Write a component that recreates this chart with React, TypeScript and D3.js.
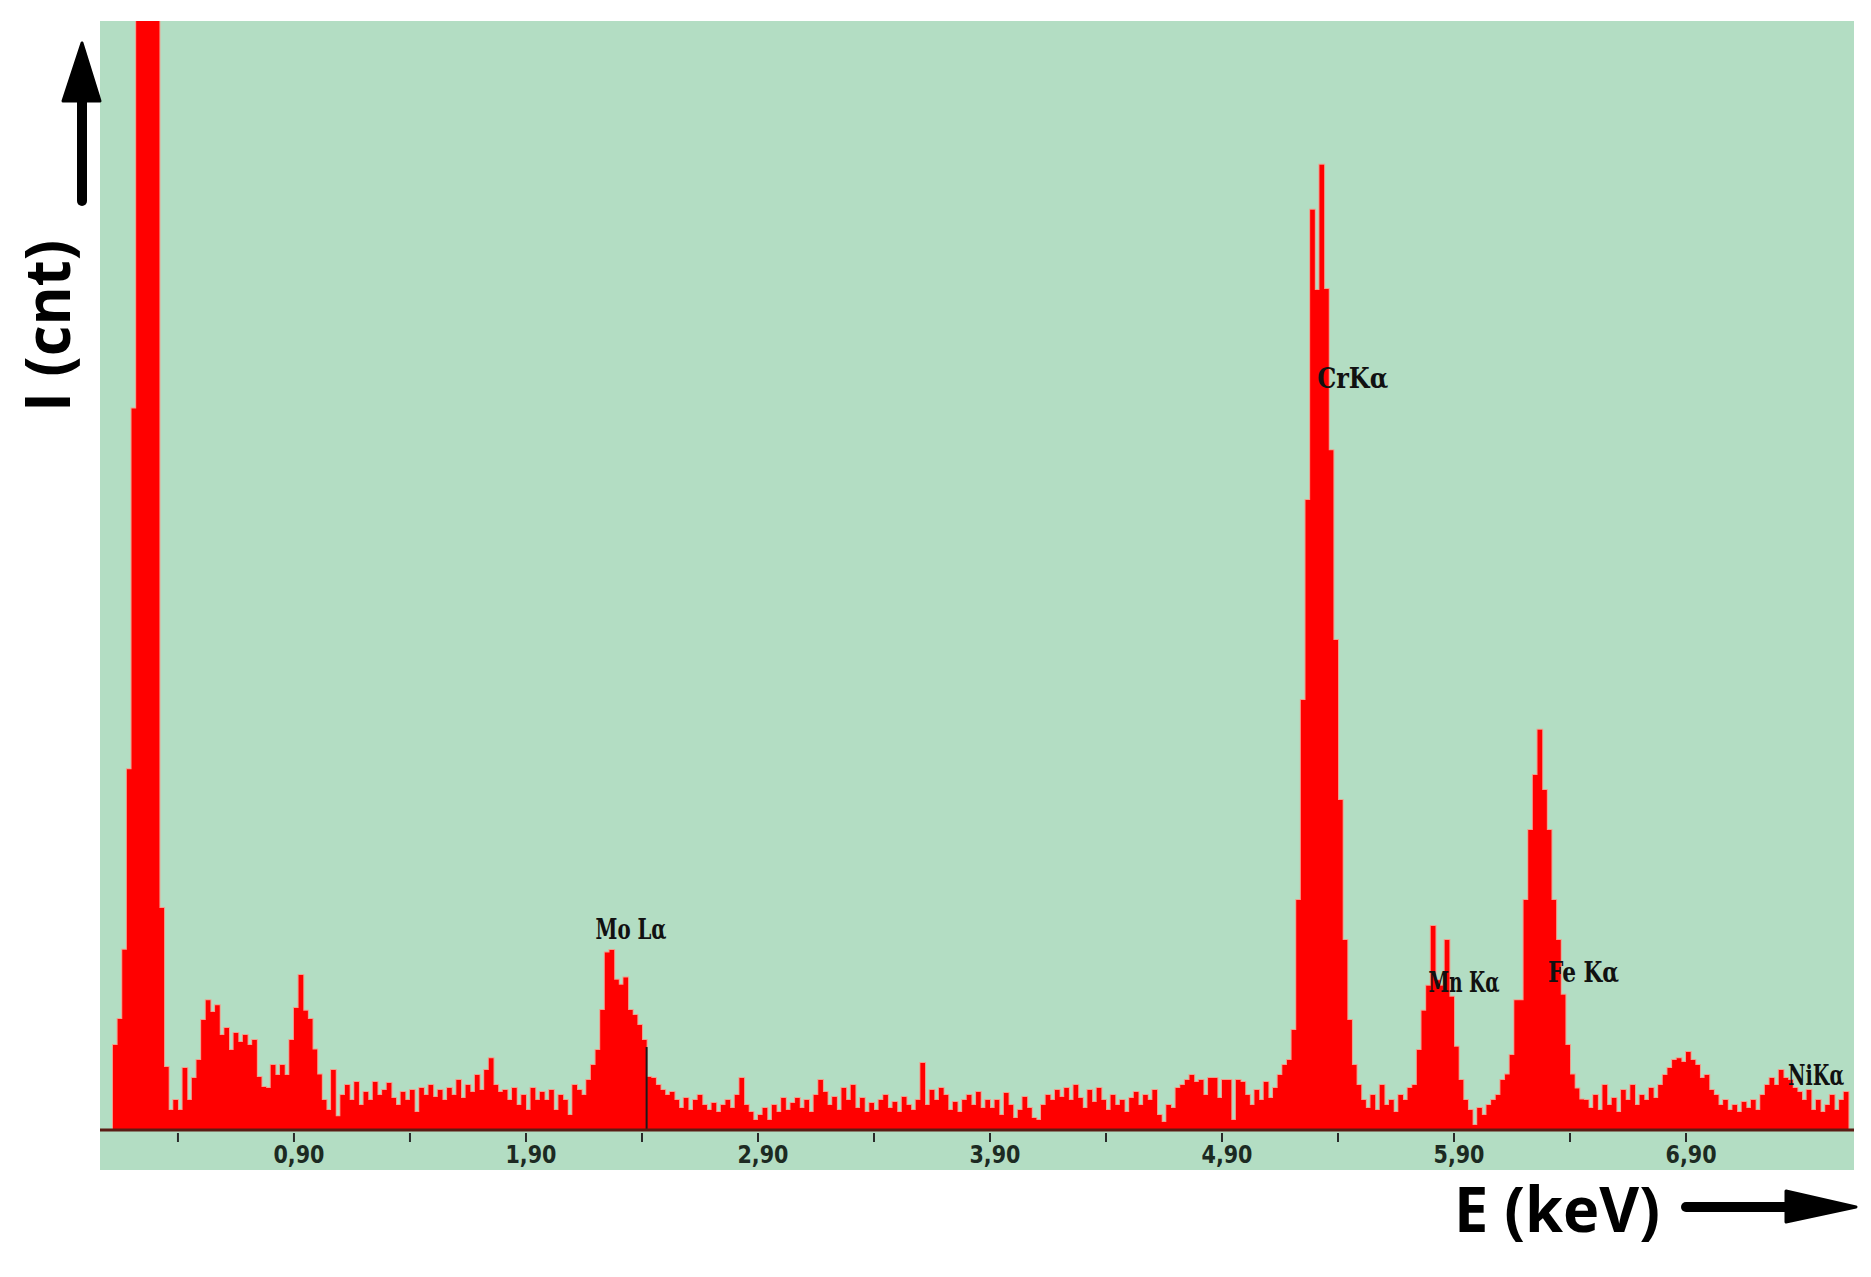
import React from "react";
import * as d3 from "d3";

// Channel calibration (keV) of the spectrum bins
const E_START = 0.12;
const E_STEP = 0.02;

// Counts per 0.02 keV channel
const countsCO = [306, 400, 650, 1300, 2600, 6000, 9000, 12000, 11000, 6000, 800, 227, 72, 108]; // 0.12–0.38
const countsLow = [72, 223, 108, 187, 252, 396, 468, 425, 450, 342, 368, 288, 350, 317, 342, 306, 324, 191, 155, 151, 234, 198, 234, 198, 324, 440, 559, 430, 400, 290]; // 0.40–0.98
const countsBg1 = [200, 108, 72, 216, 50, 126, 162, 108, 173, 90, 137, 108, 173, 126, 144, 169, 115, 90, 137, 108, 144, 65, 151, 126, 162, 119, 144, 108, 151, 126, 180, 115, 162, 137, 198, 144, 216, 259, 162, 137, 144, 108, 151, 90, 126, 72, 151, 108, 137]; // 1.00–1.96
const countsMo = [108, 144, 72, 126, 108, 54, 162, 144, 126, 180, 234, 288, 432, 640, 649, 541, 523, 550, 432, 414, 378, 324, 191, 187, 162, 144, 126, 137, 108, 79, 115, 72, 108, 126, 90, 72, 97, 65, 90, 108, 79, 126, 187, 90, 65, 36, 54, 79, 36, 90, 65, 115, 72, 97, 115, 79, 108, 65, 126, 180, 137, 90, 119, 72, 151, 108, 162, 79, 115, 65, 97, 72, 108, 126, 79, 101, 65, 119, 90, 72, 108, 241, 90, 144, 108, 151, 126, 72, 101, 65, 108, 126, 90, 137, 79, 108]; // 1.98–3.88
const countsBg2 = [79, 108, 54, 133, 90, 43, 72, 119, 79, 43, 36, 90, 126, 108, 144, 119, 151, 108, 162, 115, 79, 144, 101, 151, 108, 72, 126, 90, 108, 65, 115, 137, 90, 126, 108, 144, 54, 29, 90, 79, 151, 162, 180, 198, 173, 180, 126, 187, 187, 115, 180, 180, 36, 180, 173, 126, 90, 144, 108, 173, 115, 151, 198, 234, 252]; // 3.90–5.20
const countsCrMn = [360, 829, 1550, 2270, 3316, 3027, 3478, 3031, 2450, 1766, 1189, 685, 396, 234, 162, 108, 79, 126, 72, 162, 90, 108, 65, 126, 108, 151, 162, 288, 430, 520, 735, 540, 520, 685, 480, 300, 180, 108, 72]; // 5.22–5.98
const countsFeNi = [18, 79, 54, 90, 108, 126, 180, 200, 270, 468, 468, 829, 1081, 1279, 1442, 1225, 1081, 829, 685, 487, 306, 200, 150, 110, 108, 79, 126, 72, 162, 90, 115, 65, 144, 108, 162, 90, 126, 108, 151, 115, 162, 198, 223, 252, 259, 245, 281, 252, 234, 187, 198, 144, 126, 90, 108, 72, 90, 65, 101, 79, 108, 72, 126, 162, 187, 162, 216, 187, 180, 151, 137, 108, 144, 72, 108, 65, 90, 126, 72, 108, 137]; // 6.00–7.60

// Axis ticks
const majorTicks = [0.9, 1.9, 2.9, 3.9, 4.9, 5.9, 6.9];
const minorTicks = [0.4, 1.4, 2.4, 3.4, 4.4, 5.4, 6.4];
const tickLabels = ["0,90", "1,90", "2,90", "3,90", "4,90", "5,90", "6,90"];

// Peak labels (energy / count of the label anchor)
const peakNames = ["Mo Lα", "CrKα", "Mn Kα", "Fe Kα", "NiKα"];
const peakLabelE = [2.2, 5.31, 5.79, 6.305, 7.34];
const peakLabelC = [688, 2674, 497, 533, 162];

// Cursor marker
const markerE = 2.42;
const markerC = 299;

export default function App() {
  const W = 1871;
  const H = 1277;
  const left = 100, top = 21, right = 1854, bottom = 1170;
  const x = d3.scaleLinear().domain([0.064, 7.624]).range([left, right]);
  const y = d3.scaleLinear().domain([0, 4000]).range([1130, 20]);

  const all = [
    ...countsCO, ...countsLow, ...countsBg1, ...countsMo,
    ...countsBg2, ...countsCrMn, ...countsFeNi,
  ];
  const pts = all.map((c, i) => ({ e: E_START + i * E_STEP, c }));
  pts.push({ e: E_START + all.length * E_STEP, c: all[all.length - 1] });

  const area = d3
    .area<{ e: number; c: number }>()
    .x((d) => x(d.e))
    .y0(y(0))
    .y1((d) => y(d.c))
    .curve(d3.curveStepAfter);

  const baseY = y(0);

  return (
    <svg
      width={W}
      height={H}
      style={{ position: "absolute", left: 0, top: 0, background: "#fff" }}
    >
      <defs>
        <clipPath id="plotClip">
          <rect x={left} y={top} width={right - left} height={baseY - top} />
        </clipPath>
      </defs>
      <rect x={left} y={top} width={right - left} height={bottom - top} fill="#b3ddc3" />

      <g clipPath="url(#plotClip)">
        <path
          d={area(pts) || ""}
          fill="#ff0000"
          stroke="#f49c8c"
          strokeWidth={2}
          style={{ paintOrder: "stroke" }}
        />
        <line
          x1={x(markerE)}
          x2={x(markerE)}
          y1={y(markerC)}
          y2={baseY}
          stroke="#1a1a1a"
          strokeWidth={2}
        />
      </g>

      {/* baseline */}
      <line x1={left} x2={right} y1={baseY} y2={baseY} stroke="#5a1c14" strokeWidth={3} />

      {/* ticks */}
      {[...majorTicks, ...minorTicks].map((t, i) => (
        <line key={"t" + i} x1={x(t)} x2={x(t)} y1={baseY + 3} y2={baseY + 12} stroke="#2a2a2a" strokeWidth={2} />
      ))}
      {majorTicks.map((t, i) => (
        <text
          key={"l" + i}
          x={x(t) + 5}
          y={1163}
          textAnchor="middle"
          fontFamily="DejaVu Sans"
          fontWeight="bold"
          fontSize={25}
          fill="#1c2a22"
          textLength={51}
          lengthAdjust="spacingAndGlyphs"
        >
          {tickLabels[i]}
        </text>
      ))}

      {/* peak labels */}
      {peakNames.map((n, i) => (
        <text
          key={"p" + i}
          x={x(peakLabelE[i])}
          y={y(peakLabelC[i])}
          fontFamily="DejaVu Serif"
          fontWeight="bold"
          fontSize={28}
          fill="#111"
          textLength={i === peakNames.length - 1 ? 56 : 71}
          lengthAdjust="spacingAndGlyphs"
        >
          {n}
        </text>
      ))}

      {/* Y axis title and arrow */}
      <text
        transform={`translate(70,326) rotate(-90)`}
        textAnchor="middle"
        fontFamily="Open Sans"
        fontWeight="bold"
        fontSize={62}
        fill="#000"
        textLength={172}
        lengthAdjust="spacingAndGlyphs"
      >
        I (cnt)
      </text>
      <rect x={77} y={92} width={10} height={114} rx={5} fill="#000" />
      <polygon points="82,43 100,101 63,101" fill="#000" stroke="#000" strokeWidth={3} strokeLinejoin="round" />

      {/* X axis title and arrow */}
      <text
        x={1454}
        y={1232}
        fontFamily="Open Sans"
        fontWeight="bold"
        fontSize={62}
        fill="#000"
        textLength={206}
        lengthAdjust="spacingAndGlyphs"
      >
        E (keV)
      </text>
      <rect x={1681} y={1202} width={112} height={10} rx={5} fill="#000" />
      <polygon points="1786,1191 1856,1207 1786,1222" fill="#000" stroke="#000" strokeWidth={3} strokeLinejoin="round" />
    </svg>
  );
}
